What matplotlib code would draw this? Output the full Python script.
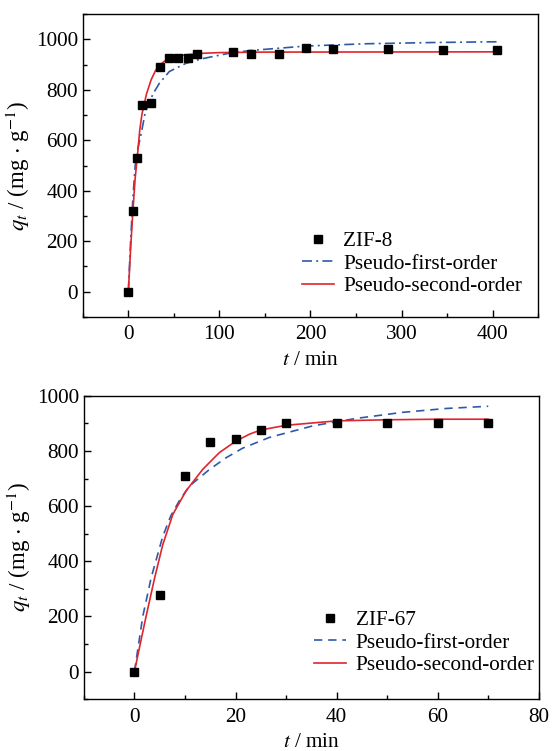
import matplotlib
matplotlib.use("Agg")
import matplotlib.pyplot as plt

plt.rcParams['font.family'] = ['Liberation Serif', 'DejaVu Serif']
plt.rcParams['mathtext.fontset'] = 'stix'

# ZIF-8 kinetics (top)
t_zif8 = [0, 5, 10, 15, 25, 35, 45, 55, 65, 75, 115, 135, 165, 195, 225, 285, 345, 405]
q_zif8 = [0, 319, 529, 741, 748, 892, 925, 925, 925, 941, 950, 941, 941, 965, 961, 961, 958, 958]

# fitted curves
t_pfo8 = [0, 2.5, 5, 7.5, 10, 14, 18, 22, 28, 34, 45, 63, 80, 110, 133, 195, 260, 335, 405]
q_pfo8 = [0, 200, 370, 500, 560, 625, 700, 745, 790, 826, 873, 905, 923, 945, 956, 974, 983, 988, 991]
t_pso8 = [0, 2.5, 5, 7.5, 10, 12.5, 15, 17.5, 20, 25, 30, 35, 40, 50, 60, 80, 100, 150, 405]
q_pso8 = [0, 170, 320, 450, 540, 640, 705, 745, 785, 840, 878, 900, 915, 930, 938, 945, 948, 950, 951]

# ZIF-67 kinetics (bottom)
t_zif67 = [0, 5, 10, 15, 20, 25, 30, 40, 50, 60, 70]
q_zif67 = [0, 279, 709, 834, 842, 876, 902, 900, 900, 900, 900]

t_pfo67 = [0, 1.65, 3.3, 5.6, 7.2, 8.9, 10.9, 14.85, 18.2, 21.4, 26.7, 35.3, 43.9, 53.1, 61.7, 70]
q_pfo67 = [0, 200, 340, 490, 565, 620, 673, 733, 776, 810, 849, 891, 918, 940, 954, 962]
t_pso67 = [0, 1.2, 2.3, 4, 5.6, 7.6, 10.2, 13.5, 16.8, 20.1, 22.8, 25, 30, 40, 50, 60, 70]
q_pso67 = [0, 105, 200, 340, 460, 570, 655, 733, 794, 836, 861, 876, 893, 909, 913, 915, 915]

red = '#e0252d'
blue = '#2d5aa8'
fs = 15.3

fig = plt.figure(figsize=(5.52, 7.51), dpi=100)
ax1 = fig.add_axes([0.150, 0.578, 0.825, 0.403])
ax2 = fig.add_axes([0.152, 0.069, 0.824, 0.404])


def style_axis(ax):
    for s in ax.spines.values():
        s.set_linewidth(1.0)
    ax.tick_params(which='both', direction='in', top=False, right=False, labelsize=fs)
    ax.tick_params(axis='x', which='major', pad=6)
    ax.tick_params(which='major', length=5, width=1)
    ax.tick_params(which='minor', length=3, width=1)
    ax.set_xlabel(r'$t$ / min', fontsize=fs, labelpad=5)
    ax.set_ylabel(r'$q_t$ / (mg $\cdot$ g$^{-1}$)', fontsize=16.5, labelpad=3)


# top panel
ax1.plot(t_zif8, q_zif8, 's', color='black', markersize=6, label='ZIF-8', zorder=3)
ax1.plot(t_pfo8, q_pfo8, color=blue, lw=1.2, dashes=(6, 2.5, 1.2, 2.5), label='Pseudo-first-order')
ax1.plot(t_pso8, q_pso8, color=red, lw=1.2, label='Pseudo-second-order')
ax1.set_xlim(-50, 450)
ax1.set_ylim(-100, 1100)
ax1.set_xticks([0, 100, 200, 300, 400])
ax1.set_xticks(range(-50, 451, 50), minor=True)
ax1.set_yticks([0, 200, 400, 600, 800, 1000])
ax1.set_yticks(range(-100, 1101, 100), minor=True)
style_axis(ax1)
ax1.legend(loc='lower left', bbox_to_anchor=(0.472, 0.055), frameon=False, fontsize=fs,
           handlelength=1.5, handletextpad=0.45, labelspacing=0.12, borderaxespad=0, borderpad=0.2)

# bottom panel
ax2.plot(t_zif67, q_zif67, 's', color='black', markersize=5.5, label='ZIF-67', zorder=3)
ax2.plot(t_pfo67, q_pfo67, color=blue, lw=1.2, dashes=(5, 3.5), label='Pseudo-first-order')
ax2.plot(t_pso67, q_pso67, color=red, lw=1.2, label='Pseudo-second-order')
ax2.set_xlim(-10, 80)
ax2.set_ylim(-100, 1000)
ax2.set_xticks([0, 20, 40, 60, 80])
ax2.set_xticks(range(-10, 81, 10), minor=True)
ax2.set_yticks([0, 200, 400, 600, 800, 1000])
ax2.set_yticks(range(-100, 1001, 100), minor=True)
style_axis(ax2)
ax2.legend(loc='lower left', bbox_to_anchor=(0.497, 0.065), frameon=False, fontsize=fs,
           handlelength=1.5, handletextpad=0.45, labelspacing=0.12, borderaxespad=0, borderpad=0.2)

fig.savefig('out.png', dpi=100)
